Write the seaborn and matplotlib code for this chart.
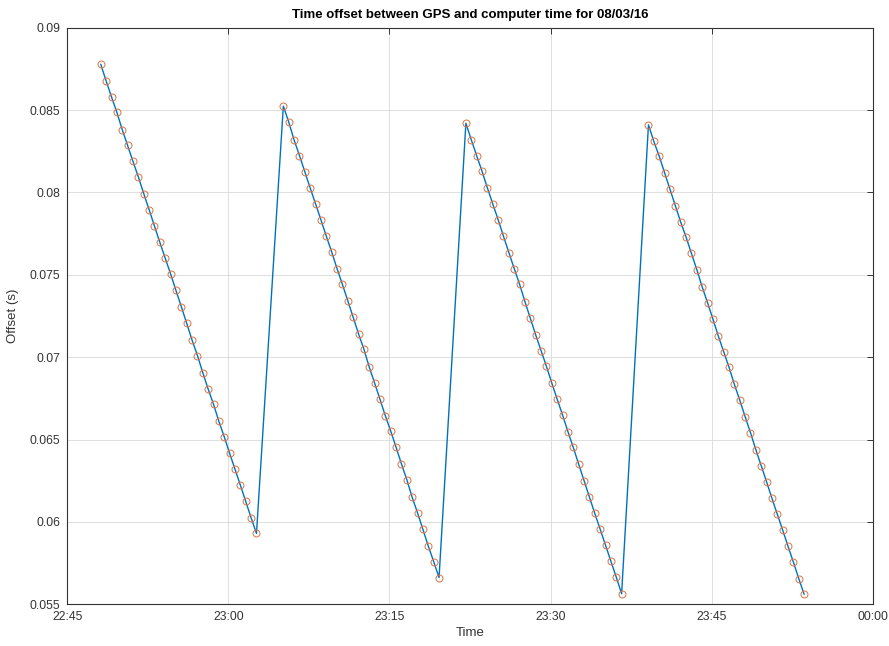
import matplotlib
matplotlib.use("Agg")
import matplotlib.pyplot as plt
import matplotlib.dates as mdates
from matplotlib.ticker import FixedLocator, FuncFormatter
import pandas as pd
import seaborn as sns

# Logged clock offsets (GPS vs computer), one sample every 30 s, four sync cycles
LOG_DATE = "2016-03-08"

seg1_times = ["22:48:07", "22:48:37", "22:49:07", "22:49:37", "22:50:07", "22:50:37",
              "22:51:07", "22:51:37", "22:52:07", "22:52:37", "22:53:07", "22:53:37",
              "22:54:07", "22:54:37", "22:55:07", "22:55:37", "22:56:07", "22:56:37",
              "22:57:07", "22:57:37", "22:58:07", "22:58:37", "22:59:07", "22:59:37",
              "23:00:07", "23:00:37", "23:01:07", "23:01:37", "23:02:07", "23:02:37"]
seg1_offset = [0.08778, 0.08677, 0.08580, 0.08486, 0.08381, 0.08285, 0.08188, 0.08094,
               0.07993, 0.07896, 0.07796, 0.07697, 0.07601, 0.07506, 0.07405, 0.07307,
               0.07206, 0.07104, 0.07010, 0.06906, 0.06806, 0.06714, 0.06610, 0.06516,
               0.06416, 0.06320, 0.06223, 0.06124, 0.06025, 0.05930]

seg2_times = ["23:05:07", "23:05:37", "23:06:07", "23:06:37", "23:07:07", "23:07:37",
              "23:08:07", "23:08:37", "23:09:07", "23:09:37", "23:10:07", "23:10:37",
              "23:11:07", "23:11:37", "23:12:07", "23:12:37", "23:13:07", "23:13:37",
              "23:14:07", "23:14:37", "23:15:07", "23:15:37", "23:16:07", "23:16:37",
              "23:17:07", "23:17:37", "23:18:07", "23:18:37", "23:19:07", "23:19:37"]
seg2_offset = [0.08524, 0.08428, 0.08319, 0.08224, 0.08126, 0.08027, 0.07931, 0.07834,
               0.07735, 0.07639, 0.07538, 0.07442, 0.07343, 0.07243, 0.07142, 0.07049,
               0.06940, 0.06843, 0.06744, 0.06644, 0.06551, 0.06453, 0.06352, 0.06256,
               0.06149, 0.06054, 0.05954, 0.05853, 0.05759, 0.05662]

seg3_times = ["23:22:07", "23:22:37", "23:23:07", "23:23:37", "23:24:07", "23:24:37",
              "23:25:07", "23:25:37", "23:26:07", "23:26:37", "23:27:07", "23:27:37",
              "23:28:07", "23:28:37", "23:29:07", "23:29:37", "23:30:07", "23:30:37",
              "23:31:07", "23:31:37", "23:32:07", "23:32:37", "23:33:07", "23:33:37",
              "23:34:07", "23:34:37", "23:35:07", "23:35:37", "23:36:07", "23:36:37"]
seg3_offset = [0.08420, 0.08320, 0.08224, 0.08129, 0.08028, 0.07931, 0.07835, 0.07734,
               0.07635, 0.07538, 0.07442, 0.07337, 0.07236, 0.07135, 0.07040, 0.06944,
               0.06843, 0.06745, 0.06649, 0.06548, 0.06452, 0.06351, 0.06251, 0.06151,
               0.06052, 0.05956, 0.05859, 0.05761, 0.05665, 0.05564]

seg4_times = ["23:39:07", "23:39:37", "23:40:07", "23:40:37", "23:41:07", "23:41:37",
              "23:42:07", "23:42:37", "23:43:07", "23:43:37", "23:44:07", "23:44:37",
              "23:45:07", "23:45:37", "23:46:07", "23:46:37", "23:47:07", "23:47:37",
              "23:48:07", "23:48:37", "23:49:07", "23:49:37", "23:50:07", "23:50:37",
              "23:51:07", "23:51:37", "23:52:07", "23:52:37", "23:53:07", "23:53:37"]
seg4_offset = [0.08410, 0.08310, 0.08220, 0.08120, 0.08020, 0.07920, 0.07820, 0.07730,
               0.07630, 0.07532, 0.07427, 0.07331, 0.07232, 0.07129, 0.07034, 0.06939,
               0.06835, 0.06739, 0.06639, 0.06542, 0.06438, 0.06341, 0.06243, 0.06143,
               0.06046, 0.05950, 0.05851, 0.05755, 0.05655, 0.05560]

y_ticks = [0.055, 0.06, 0.065, 0.07, 0.075, 0.08, 0.085, 0.09]
x_start, x_end = "2016-03-08 22:45", "2016-03-09 00:00"

LINE_BLUE = "#0072BD"
MARKER_ORANGE = "#D97A4E"
TEXT_DARK = "#333333"

times = seg1_times + seg2_times + seg3_times + seg4_times
offsets = seg1_offset + seg2_offset + seg3_offset + seg4_offset
df = pd.DataFrame({
    "time": pd.to_datetime([f"{LOG_DATE} {t}" for t in times]),
    "offset": offsets,
})

sns.set_theme(style="white")
plt.rcParams["font.family"] = ["Liberation Sans", "DejaVu Sans"]

fig = plt.figure(figsize=(8.89, 6.46), dpi=100)
ax = fig.add_axes([0.0757, 0.0646, 0.906, 0.8925])

sns.lineplot(data=df, x="time", y="offset", ax=ax, sort=False, estimator=None,
             color=LINE_BLUE, linewidth=1.0)
sns.lineplot(data=df, x="time", y="offset", ax=ax, sort=False, estimator=None,
             linestyle="none", marker="o", markersize=5.0,
             markerfacecolor="none", markeredgecolor=MARKER_ORANGE,
             markeredgewidth=0.75, color=MARKER_ORANGE)

ax.set_xlim(pd.Timestamp(x_start), pd.Timestamp(x_end))
ax.set_ylim(y_ticks[0], y_ticks[-1])
ax.xaxis.set_major_locator(mdates.MinuteLocator(byminute=[0, 15, 30, 45]))
ax.xaxis.set_major_formatter(mdates.DateFormatter("%H:%M"))
ax.yaxis.set_major_locator(FixedLocator(y_ticks))
ax.yaxis.set_major_formatter(FuncFormatter(lambda v, _: f"{v:g}"))

ax.grid(True, color="#d9d9d9", linewidth=0.6)
ax.set_axisbelow(True)
for side in ["left", "right", "top", "bottom"]:
    ax.spines[side].set_visible(True)
    ax.spines[side].set_color(TEXT_DARK)
    ax.spines[side].set_linewidth(0.8)

ax.tick_params(axis="both", which="major", direction="in", length=4,
               width=0.7, color=TEXT_DARK, labelcolor=TEXT_DARK,
               labelsize=8.7, top=True, right=True)
ax.tick_params(axis="x", pad=5)
ax.tick_params(axis="y", pad=5)

ax.set_xlabel("Time", fontsize=9.5, color=TEXT_DARK, labelpad=3)
ax.set_ylabel("Offset (s)", fontsize=9.5, color=TEXT_DARK, labelpad=8)
ax.set_title("Time offset between GPS and computer time for 08/03/16",
             fontsize=9.5, fontweight="bold", color="black", pad=7)

fig.savefig("out.png", dpi=100, facecolor="white")
